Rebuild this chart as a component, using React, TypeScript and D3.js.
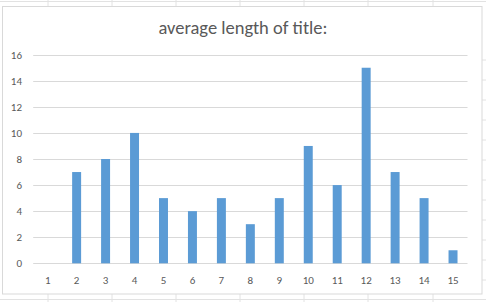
import React from "react";
import * as d3 from "d3";

const categories = ["1","2","3","4","5","6","7","8","9","10","11","12","13","14","15"];
const values = [0,7,8,10,5,4,5,3,5,9,6,15,7,5,1];
const yTicks = [0,2,4,6,8,10,12,14,16];
const title = "average length of title:";

const W = 486, H = 302;
const sheetCols = [48, 112, 176, 240, 304, 368, 433];
const sheetRows = [60, 80, 100, 120, 140, 160, 180, 200, 220, 240, 260, 280];

export default function App() {
  const x = d3.scaleBand<string>().domain(categories).range([33.2, 467.5]).paddingInner(0.69).paddingOuter(0.345);
  const y = d3.scaleLinear().domain([0, 16]).range([263.3, 54.7]);
  const font = "Carlito, Calibri, 'Liberation Sans', Arial, sans-serif";
  return (
    <svg width={W} height={H} style={{ position: "absolute", left: 0, top: 0, display: "block" }}>
      <rect x={0} y={0} width={W} height={H} fill="#ffffff" />
      {/* spreadsheet grid behind */}
      <line x1={0} x2={W} y1={1.5} y2={1.5} stroke="#e2e2e2" />
      <line x1={0} x2={W} y1={299.5} y2={299.5} stroke="#e2e2e2" />
      {sheetCols.map((c) => (
        <g key={c}>
          <line x1={c} x2={c} y1={0} y2={6} stroke="#e2e2e2" />
          <line x1={c} x2={c} y1={294} y2={H} stroke="#e2e2e2" />
        </g>
      ))}
      {sheetRows.map((r) => (
        <line key={r} x1={482} x2={W} y1={r} y2={r} stroke="#e2e2e2" />
      ))}
      <rect x={2.5} y={6.5} width={479.5} height={287.5} fill="#ffffff" stroke="#d9d9d9" />
      <text x={243} y={34} textAnchor="middle" fontFamily={font} fontSize={18.5} fill="#595959">{title}</text>
      {yTicks.map((t) => (
        <g key={t}>
          <line x1={33.2} x2={467.5} y1={Math.round(y(t)) + 0.5} y2={Math.round(y(t)) + 0.5} stroke="#d9d9d9" />
          <text x={22} y={y(t) + 4} textAnchor="end" fontFamily={font} fontSize={11} fill="#595959">{t}</text>
        </g>
      ))}
      {categories.map((c, i) => (
        <g key={c}>
          <rect x={x(c)!} y={y(values[i])} width={x.bandwidth()} height={y(0) - y(values[i])} fill="#5b9bd5" />
          <text x={x(c)! + x.bandwidth() / 2} y={283.5} textAnchor="middle" fontFamily={font} fontSize={11} fill="#595959">{c}</text>
        </g>
      ))}
    </svg>
  );
}
